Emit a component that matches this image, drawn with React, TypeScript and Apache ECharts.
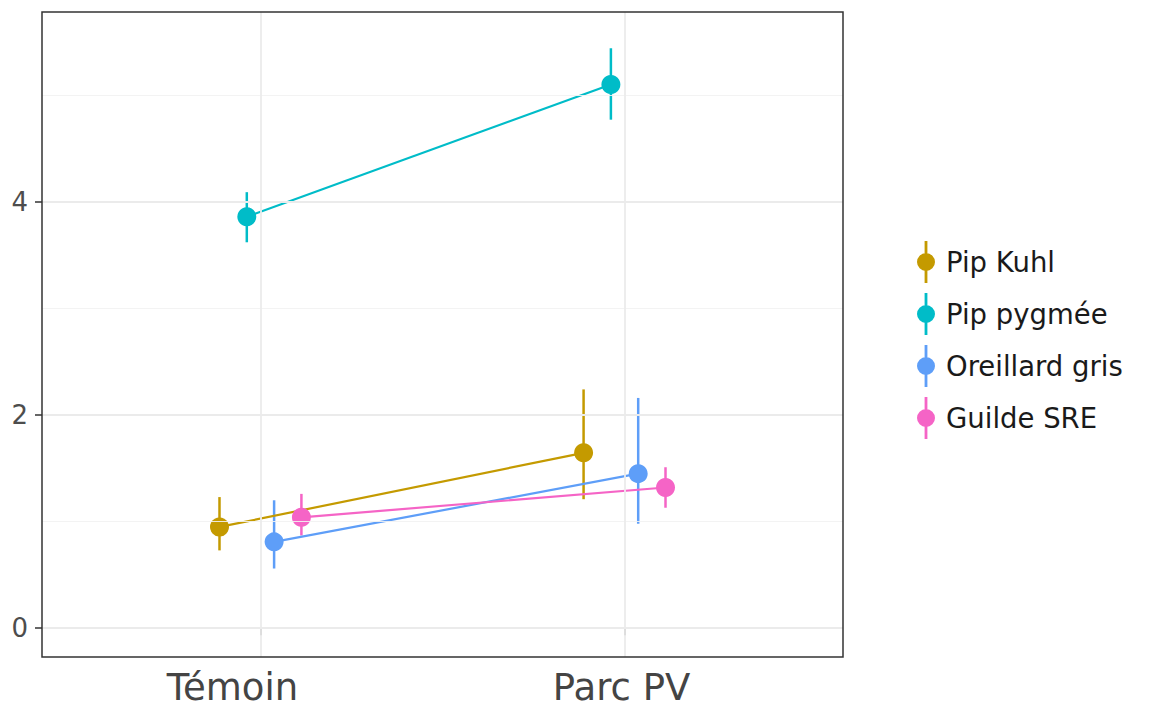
import React, { useEffect, useRef } from "react";
import * as echarts from "echarts";

const categories = ["Témoin", "Parc PV"];
const species = ["Pip Kuhl", "Pip pygmée", "Oreillard gris", "Guilde SRE"];
const colors = ["#C49A00", "#00BCC8", "#5E9EF8", "#F564C6"];
// dodge offsets (position_dodge width 0.3)
const dodge = [-0.1125, -0.0375, 0.0375, 0.1125];

const pipKuhl = [0.95, 1.645];
const pipKuhlLow = [0.73, 1.21];
const pipKuhlHigh = [1.23, 2.24];

const pipPygmee = [3.86, 5.1];
const pipPygmeeLow = [3.62, 4.77];
const pipPygmeeHigh = [4.09, 5.44];

const oreillard = [0.81, 1.45];
const oreillardLow = [0.56, 0.98];
const oreillardHigh = [1.2, 2.16];

const guilde = [1.04, 1.32];
const guildeLow = [0.87, 1.13];
const guildeHigh = [1.26, 1.51];

const means = [pipKuhl, pipPygmee, oreillard, guilde];
const lows = [pipKuhlLow, pipPygmeeLow, oreillardLow, guildeLow];
const highs = [pipKuhlHigh, pipPygmeeHigh, oreillardHigh, guildeHigh];

const yTicks = [0, 2, 4];
const yMinor = [1, 3, 5];
const yMin = -0.27;
const yMax = 5.78;

const FONT = "DejaVu Sans";

const legendIcon =
  "path://M8.6 0 H11.4 V42 H8.6 Z M1 21 A9 9 0 1 1 19 21 A9 9 0 1 1 1 21 Z";

export default function App() {
  const ref = useRef<HTMLDivElement>(null);
  useEffect(() => {
    if (!ref.current) return;
    const chart = echarts.init(ref.current, null, { renderer: "svg" });
    const catPos = categories.map((_, i) => i + 1);

    const series: any[] = [];
    series.push({
      type: "line",
      name: "__grid",
      data: [],
      z: 0,
      silent: true,
      markLine: {
        silent: true,
        symbol: ["none", "none"],
        label: { show: false },
        animation: false,
        data: [
          ...yMinor.map((v) => ({ yAxis: v, lineStyle: { color: "#f2f2f2", width: 0.9, type: "solid" } })),
          ...yTicks.map((v) => ({ yAxis: v, lineStyle: { color: "#ebebeb", width: 1.8, type: "solid" } })),
          ...catPos.map((v) => ({ xAxis: v, lineStyle: { color: "#ebebeb", width: 1.8, type: "solid" } })),
        ],
      },
    });

    species.forEach((name, s) => {
      series.push({
        type: "line",
        name,
        z: 3,
        data: catPos.map((c, i) => [c + dodge[s], means[s][i]]),
        symbol: "circle",
        symbolSize: 19,
        lineStyle: { color: colors[s], width: 2.2 },
        itemStyle: { color: colors[s] },
        emphasis: { disabled: true },
      });
      series.push({
        type: "custom",
        name,
        z: 2,
        data: catPos.map((c, i) => [c + dodge[s], lows[s][i], highs[s][i]]),
        encode: { x: 0, y: [1, 2] },
        renderItem: (params: any, api: any) => {
          const x = api.value(0);
          const p1 = api.coord([x, api.value(1)]);
          const p2 = api.coord([x, api.value(2)]);
          return {
            type: "line",
            shape: { x1: p1[0], y1: p1[1], x2: p2[0], y2: p2[1] },
            style: { stroke: colors[s], lineWidth: 2.5 },
          };
        },
      });
    });

    chart.setOption({
      animation: false,
      backgroundColor: "#ffffff",
      textStyle: { fontFamily: FONT },
      grid: {
        left: 42,
        right: 310,
        top: 12,
        bottom: 64,
        show: true,
        borderColor: "#333333",
        borderWidth: 1.5,
        backgroundColor: "transparent",
        z: 10,
      },
      legend: {
        orient: "vertical",
        left: 912,
        top: 236,
        itemWidth: 20,
        itemHeight: 42,
        itemGap: 10,
        selectedMode: false,
        textStyle: {
          fontFamily: FONT,
          fontSize: 27.5,
          color: "#1a1a1a",
          padding: [0, 0, 0, 5],
        },
        data: species.map((n, s) => ({
          name: n,
          icon: legendIcon,
          itemStyle: { color: colors[s] },
        })),
      },
      xAxis: {
        type: "value",
        min: 0.4,
        max: 2.6,
        axisLine: { show: false },
        splitLine: { show: false },
        axisTick: {
          show: true,
          customValues: catPos,
          length: 7,
          lineStyle: { color: "#333333", width: 1.5 },
        },
        axisLabel: {
          customValues: catPos,
          formatter: (v: number) => {
            const i = Math.round(v) - 1;
            const t = categories[i] ?? "";
            return i === 0 ? "{a|" + t + "}" : "{b|" + t + "}";
          },
          fontFamily: FONT,
          fontSize: 37,
          color: "#444444",
          margin: 12,
          rich: {
            a: { fontFamily: FONT, fontSize: 37, color: "#444444", padding: [0, 56, 0, 0] },
            b: { fontFamily: FONT, fontSize: 37, color: "#444444", padding: [0, 6, 0, 0] },
          },
        },
      },
      yAxis: {
        type: "value",
        min: yMin,
        max: yMax,
        axisLine: { show: false },
        splitLine: { show: false },
        axisTick: {
          show: true,
          customValues: yTicks,
          length: 7,
          lineStyle: { color: "#333333", width: 1.5 },
        },
        axisLabel: {
          customValues: yTicks,
          fontFamily: FONT,
          fontSize: 26,
          color: "#4d4d4d",
          margin: 14,
        },
      },
      series,
    });
    return () => chart.dispose();
  }, []);
  return <div ref={ref} style={{ width: 1153, height: 721, position: "absolute", left: 0, top: 0 }} />;
}
